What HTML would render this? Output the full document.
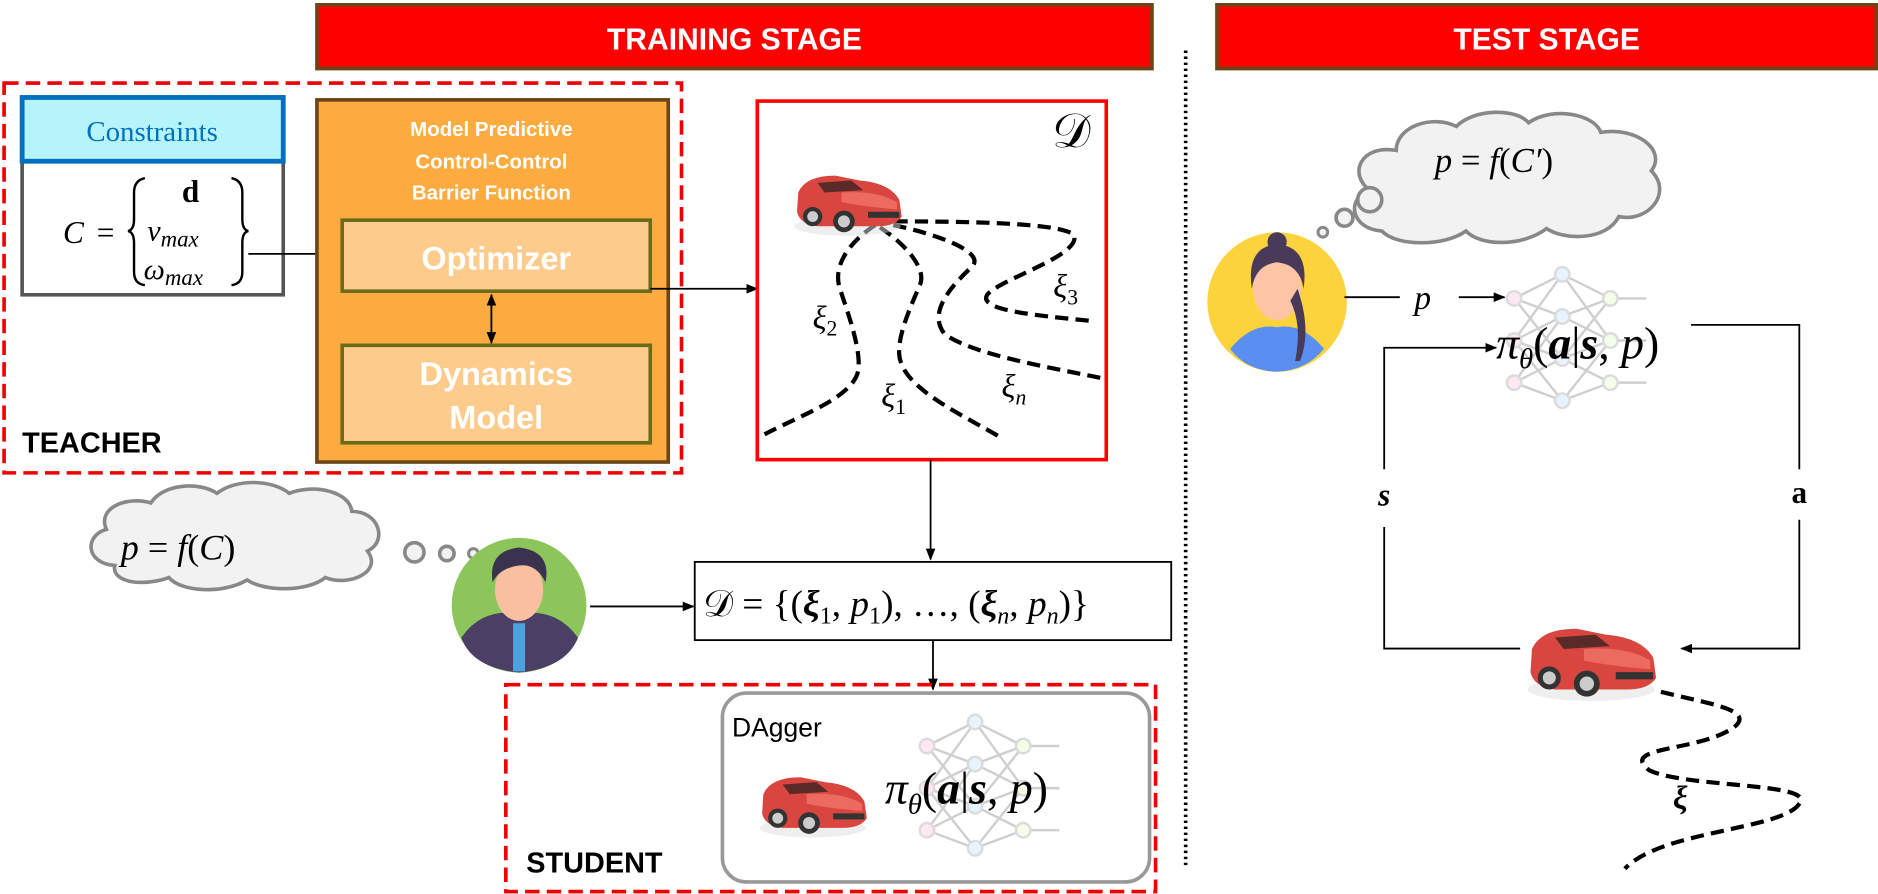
<!DOCTYPE html>
<html><head><meta charset="utf-8"><style>
html,body{margin:0;padding:0;background:#fff;}
svg{display:block;}
.m{font-family:"Liberation Serif","DejaVu Serif",serif;font-style:italic;fill:#000;}
.b{font-family:"Liberation Sans",Arial,sans-serif;font-weight:bold;}
</style></head><body>
<svg width="1878" height="894" viewBox="0 0 1560 743" xmlns="http://www.w3.org/2000/svg">
<defs>
<marker id="ar" markerWidth="10" markerHeight="10" refX="9" refY="5" orient="auto" markerUnits="userSpaceOnUse"><path d="M0,1 L10,5 L0,9 z" fill="#000"/></marker>
<marker id="ars" markerWidth="10" markerHeight="10" refX="1" refY="5" orient="auto" markerUnits="userSpaceOnUse"><path d="M10,1 L0,5 L10,9 z" fill="#000"/></marker>
<g id="car">
<ellipse cx="45" cy="50" rx="44" ry="8" fill="#ddd" opacity="0.5"/>
<path d="M4,22 Q10,8 35,8 L55,12 Q80,14 88,28 L90,42 Q85,50 70,50 L20,50 Q5,48 3,38 Z" fill="#d9453f"/>
<path d="M20,14 L48,12 L58,20 L26,22 Z" fill="#5a2a28"/>
<path d="M40,22 Q70,20 86,30 L86,36 Q60,34 40,30 Z" fill="#ec6a60"/>
<rect x="62" y="38" width="26" height="5" fill="#333"/>
<circle cx="16" cy="42" r="8" fill="#333"/><circle cx="16" cy="42" r="4.5" fill="#ccc"/>
<circle cx="42" cy="46" r="9" fill="#333"/><circle cx="42" cy="46" r="5" fill="#ccc"/>
</g>
<g id="nn" stroke="#bbb" stroke-width="2" fill="none" opacity="0.7">
<path d="M0,20 L40,0 M0,20 L40,35 M0,20 L40,70 M0,55 L40,0 M0,55 L40,35 M0,55 L40,70 M0,55 L40,105 M0,90 L40,35 M0,90 L40,70 M0,90 L40,105 M40,0 L80,20 M40,35 L80,20 M40,70 L80,20 M40,35 L80,55 M40,70 L80,55 M40,105 L80,55 M40,70 L80,90 M40,105 L80,90 M40,0 L80,55 M80,20 L110,20 M80,55 L110,55 M80,90 L110,90"/>
<g fill="#fff" stroke="#ccc"><circle cx="0" cy="20" r="6" fill="#fde"/><circle cx="0" cy="55" r="6" fill="#fde"/><circle cx="0" cy="90" r="6" fill="#fde"/><circle cx="40" cy="0" r="6" fill="#def"/><circle cx="40" cy="35" r="6" fill="#def"/><circle cx="40" cy="70" r="6" fill="#def"/><circle cx="40" cy="105" r="6" fill="#def"/><circle cx="80" cy="20" r="6" fill="#efd"/><circle cx="80" cy="55" r="6" fill="#efd"/><circle cx="80" cy="90" r="6" fill="#efd"/></g>
</g>
</defs>

<!-- banners -->
<rect x="263" y="4" width="694" height="53" fill="#ff0000" stroke="#6b4518" stroke-width="3"/>
<text x="610" y="41" text-anchor="middle" class="b" font-size="25" fill="#fff">TRAINING STAGE</text>
<rect x="1011" y="4" width="548" height="53" fill="#ff0000" stroke="#6b4518" stroke-width="3"/>
<text x="1285" y="41" text-anchor="middle" class="b" font-size="25" fill="#fff">TEST STAGE</text>
<line x1="985" y1="42" x2="985" y2="722" stroke="#000" stroke-width="3" stroke-dasharray="2,3"/>

<!-- teacher -->
<rect x="3" y="69" width="563" height="324" fill="none" stroke="#e00" stroke-width="3" stroke-dasharray="12,6"/>
<rect x="18" y="134" width="217" height="111" fill="#fff" stroke="#555" stroke-width="3"/>
<rect x="18" y="81" width="217" height="53" fill="#b6f4fb" stroke="#0070c0" stroke-width="4"/>
<text x="126" y="117" text-anchor="middle" font-family="Liberation Serif,serif" font-size="24" fill="#0070c0">Constraints</text>
<text x="52" y="202" class="m" font-size="26">C</text>
<text x="80" y="202" font-family="Liberation Serif,serif" font-size="26">=</text>
<path d="M120,148 Q111,150 111,160 L111,182 Q111,191 106,192 Q111,193 111,202 L111,226 Q111,236 120,237" fill="none" stroke="#000" stroke-width="2"/>
<path d="M192,148 Q201,150 201,160 L201,182 Q201,191 206,192 Q201,193 201,202 L201,226 Q201,236 192,237" fill="none" stroke="#000" stroke-width="2"/>
<text x="158" y="168" text-anchor="middle" font-family="Liberation Serif,serif" font-weight="bold" font-size="26">d</text>
<text x="122" y="200" class="m" font-size="25">v<tspan font-size="19" dy="5">max</tspan></text>
<text x="119" y="232" class="m" font-size="25">ω<tspan font-size="19" dy="5">max</tspan></text>
<line x1="206" y1="211" x2="282" y2="211" stroke="#000" stroke-width="1.5" marker-end="url(#ar)"/>

<rect x="263" y="83" width="292" height="301" fill="#fbab40" stroke="#6b4518" stroke-width="3"/>
<text x="408" y="113" text-anchor="middle" class="b" font-size="17" fill="#fff">Model Predictive</text>
<text x="408" y="140" text-anchor="middle" class="b" font-size="17" fill="#fff">Control-Control</text>
<text x="408" y="166" text-anchor="middle" class="b" font-size="17" fill="#fff">Barrier Function</text>
<rect x="284" y="183" width="256" height="59" fill="#fdcb8c" stroke="#6b6b1a" stroke-width="3"/>
<text x="412" y="224" text-anchor="middle" class="b" font-size="27" fill="#fff">Optimizer</text>
<rect x="284" y="287" width="256" height="81" fill="#fdcb8c" stroke="#6b6b1a" stroke-width="3"/>
<text x="412" y="320" text-anchor="middle" class="b" font-size="27" fill="#fff">Dynamics</text>
<text x="412" y="356" text-anchor="middle" class="b" font-size="27" fill="#fff">Model</text>
<line x1="408" y1="245" x2="408" y2="285" stroke="#000" stroke-width="1.5" marker-end="url(#ar)" marker-start="url(#ars)"/>
<text x="18" y="376" class="b" font-size="24">TEACHER</text>
<line x1="540" y1="240" x2="629" y2="240" stroke="#000" stroke-width="1.5" marker-end="url(#ar)"/>

<!-- D box -->
<rect x="629" y="84" width="290" height="298" fill="#fff" stroke="#f00" stroke-width="3"/>
<text x="890" y="122" text-anchor="middle" font-family="DejaVu Serif,serif" font-size="40">𝒟</text>
<g fill="none" stroke="#000" stroke-width="3.5" stroke-dasharray="11,6">
<path d="M727,187 C700,205 692,225 698,241 C705,262 715,290 713,307 C710,330 665,345 635,361"/>
<path d="M731,189 C755,205 770,225 764,237 C755,258 743,285 748,300 C755,325 800,345 832,364"/>
<path d="M742,187 C780,195 820,210 807,222 C790,238 770,260 785,278 C810,295 870,305 914,314"/>
<path d="M743,184 C800,184 880,185 892,195 C900,212 830,232 820,245 C812,258 860,262 909,267"/>
</g>
<use href="#car" transform="translate(659,138)"/>
<text x="675" y="273" class="m" font-size="27">ξ<tspan font-size="18" dy="6" font-style="normal">2</tspan></text>
<text x="732" y="338" class="m" font-size="27">ξ<tspan font-size="18" dy="6" font-style="normal">1</tspan></text>
<text x="832" y="330" class="m" font-size="27">ξ<tspan font-size="18" dy="6">n</tspan></text>
<text x="875" y="247" class="m" font-size="27">ξ<tspan font-size="18" dy="6" font-style="normal">3</tspan></text>
<line x1="773" y1="382" x2="773" y2="465" stroke="#000" stroke-width="1.5" marker-end="url(#ar)"/>

<!-- dataset -->
<rect x="577" y="467" width="396" height="65" fill="#fff" stroke="#000" stroke-width="1.5"/>
<text x="584" y="512" font-family="Liberation Serif,DejaVu Serif,serif" font-size="31"><tspan>𝒟</tspan> = {(<tspan font-weight="bold" font-style="italic">ξ</tspan><tspan font-size="20" dy="6">1</tspan><tspan dy="-6">, </tspan><tspan font-style="italic">p</tspan><tspan font-size="20" dy="6">1</tspan><tspan dy="-6">), …, (</tspan><tspan font-weight="bold" font-style="italic">ξ</tspan><tspan font-size="20" dy="6" font-style="italic">n</tspan><tspan dy="-6">, </tspan><tspan font-style="italic">p</tspan><tspan font-size="20" dy="6" font-style="italic">n</tspan><tspan dy="-6">)}</tspan></text>
<line x1="775" y1="532" x2="775" y2="573" stroke="#000" stroke-width="1.5" marker-end="url(#ar)"/>

<!-- student -->
<rect x="420" y="569" width="540" height="172" fill="none" stroke="#e00" stroke-width="3" stroke-dasharray="12,6"/>
<rect x="600" y="576" width="355" height="157" rx="20" fill="#fff" stroke="#999" stroke-width="3"/>
<text x="608" y="612" font-family="Liberation Sans,sans-serif" font-size="22">DAgger</text>
<use href="#car" transform="translate(630,638)"/>
<use href="#nn" transform="translate(770,600)"/>
<text x="735" y="668" class="m" font-size="38">π<tspan font-size="24" dy="8">θ</tspan><tspan dy="-8" font-style="normal">(</tspan><tspan font-weight="bold">a</tspan><tspan font-style="normal">|</tspan><tspan font-weight="bold">s</tspan><tspan font-style="normal">, </tspan>p<tspan font-style="normal">)</tspan></text>
<text x="437" y="725" class="b" font-size="24">STUDENT</text>

<!-- left cloud -->
<path d="M95,470 C70,468 70,445 88,440 C80,422 105,412 125,418 C135,402 165,400 180,410 C195,398 225,398 240,410 C260,402 290,408 292,425 C315,425 322,450 305,458 C318,475 290,488 270,480 C255,492 220,492 205,482 C185,494 150,492 140,480 C118,488 92,484 95,470 Z" fill="#f2f2f2" stroke="#888" stroke-width="3"/>
<text x="100" y="465" class="m" font-size="30">p <tspan font-style="normal">=</tspan> f<tspan font-style="normal">(</tspan>C<tspan font-style="normal">)</tspan></text>
<circle cx="344" cy="459" r="8" fill="#f2f2f2" stroke="#888" stroke-width="3"/>
<circle cx="371" cy="460" r="6" fill="#f2f2f2" stroke="#888" stroke-width="3"/>
<circle cx="393" cy="460" r="4" fill="#f2f2f2" stroke="#888" stroke-width="2.5"/>
<!-- man -->
<circle cx="431" cy="503" r="56" fill="#8cc65a"/>
<path d="M383,530 Q400,505 431,510 Q462,505 480,530 Q470,555 431,559 Q392,555 383,530 Z" fill="#4b3f66"/>
<rect x="426" y="518" width="10" height="40" fill="#4aa3df"/>
<ellipse cx="431" cy="490" rx="20" ry="26" fill="#f9bfa0"/>
<path d="M409,484 Q405,458 431,455 Q458,458 453,484 Q445,468 431,470 Q415,472 409,484 Z" fill="#3a3350"/>
<line x1="490" y1="504" x2="576" y2="504" stroke="#000" stroke-width="1.5" marker-end="url(#ar)"/>

<!-- test stage -->
<path d="M1148,192 C1122,190 1118,165 1138,158 C1120,145 1130,120 1160,125 C1160,105 1190,95 1210,105 C1225,90 1260,90 1270,102 C1290,88 1325,95 1330,110 C1360,105 1385,125 1372,142 C1390,160 1370,185 1345,180 C1335,200 1300,200 1285,190 C1265,205 1230,205 1218,192 C1200,205 1160,205 1148,192 Z" fill="#f2f2f2" stroke="#888" stroke-width="3"/>
<text x="1192" y="143" class="m" font-size="29">p <tspan font-style="normal">=</tspan> f<tspan font-style="normal">(</tspan>C′<tspan font-style="normal">)</tspan></text>
<circle cx="1138" cy="166" r="10" fill="#f2f2f2" stroke="#888" stroke-width="3"/>
<circle cx="1117" cy="181" r="7" fill="#f2f2f2" stroke="#888" stroke-width="3"/>
<circle cx="1099" cy="193" r="4" fill="#f2f2f2" stroke="#888" stroke-width="2.5"/>
<circle cx="1061" cy="251" r="58" fill="#fdd33d"/>
<path d="M1022,290 Q1040,268 1061,272 Q1082,268 1100,290 Q1085,308 1061,309 Q1035,308 1022,290 Z" fill="#5a8ef0"/>
<ellipse cx="1061" cy="239" rx="20" ry="27" fill="#fdc4a6"/>
<path d="M1040,240 Q1035,205 1061,203 Q1088,205 1083,240 Q1080,220 1061,218 Q1043,220 1040,240 Z" fill="#4a3a5a"/>
<path d="M1078,240 Q1090,275 1080,300 L1076,300 Q1082,270 1072,250 Z" fill="#4a3a5a"/>
<circle cx="1061" cy="201" r="8" fill="#4a3a5a"/>

<line x1="1117" y1="247" x2="1163" y2="247" stroke="#000" stroke-width="1.5"/>
<text x="1175" y="257" class="m" font-size="28">p</text>
<line x1="1212" y1="247" x2="1250" y2="247" stroke="#000" stroke-width="1.5" marker-end="url(#ar)"/>
<use href="#nn" transform="translate(1258,228)"/>
<text x="1243" y="298" class="m" font-size="38">π<tspan font-size="24" dy="8">θ</tspan><tspan dy="-8" font-style="normal">(</tspan><tspan font-weight="bold">a</tspan><tspan font-style="normal">|</tspan><tspan font-weight="bold">s</tspan><tspan font-style="normal">, </tspan>p<tspan font-style="normal">)</tspan></text>
<polyline points="1150,390 1150,289 1243,289" fill="none" stroke="#000" stroke-width="1.5" marker-end="url(#ar)"/>
<text x="1150" y="420" text-anchor="middle" class="m" font-weight="bold" font-size="26">s</text>
<polyline points="1150,438 1150,539 1263,539" fill="none" stroke="#000" stroke-width="1.5"/>
<polyline points="1405,270 1495,270 1495,390" fill="none" stroke="#000" stroke-width="1.5"/>
<text x="1495" y="418" text-anchor="middle" font-family="Liberation Serif,serif" font-weight="bold" font-size="26">a</text>
<polyline points="1495,432 1495,539 1397,539" fill="none" stroke="#000" stroke-width="1.5" marker-end="url(#ar)"/>
<use href="#car" transform="translate(1268,513) scale(1.2)"/>
<path d="M1380,575 C1420,585 1460,590 1440,605 C1410,625 1345,620 1370,640 C1400,655 1510,650 1495,668 C1480,690 1380,690 1350,722" fill="none" stroke="#000" stroke-width="3.5" stroke-dasharray="11,6"/>
<text x="1390" y="672" class="m" font-weight="bold" font-size="27">ξ</text>
</svg>
</body></html>
